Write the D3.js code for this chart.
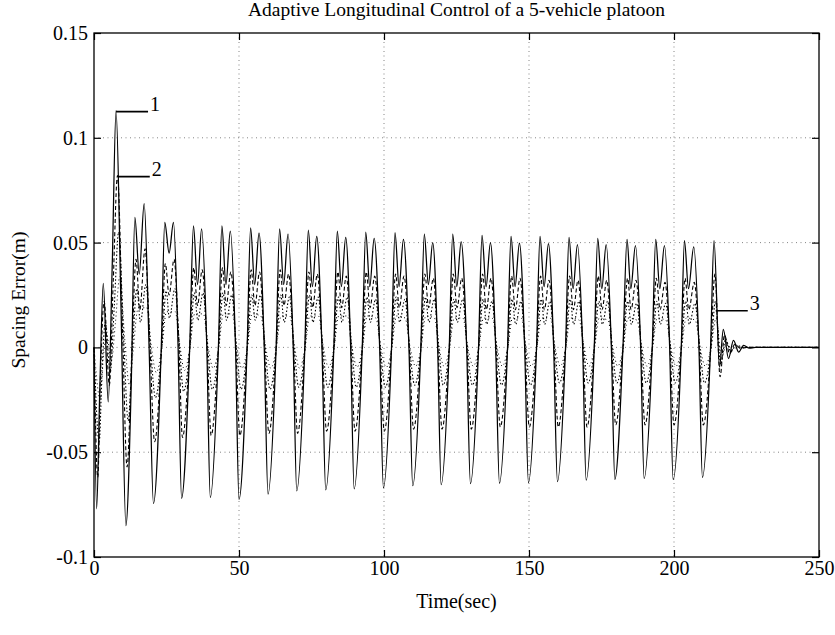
<!DOCTYPE html>
<html>
<head>
<meta charset="utf-8">
<script src="https://cdn.jsdelivr.net/npm/d3@7"></script>
<style>
  body { margin: 0; background: #fff; }
  svg text { font-family: "Liberation Serif", "Times New Roman", serif; fill: #000; }
</style>
</head>
<body>
<script>
/* ===== data (time in sec, spacing error in m) ===== */

var vehicle1 = [
  [0,0],[0.9,-0.077],[2.0,-0.02],[3.2,0.0305],[4.9,-0.026],[6.3,0.04],[7.6,0.113],[9.3,0.02],[11.0,-0.085],
  [12.8,-0.02],[14.1,0.062],[15.6,0.035],[17.3,0.0686],[19.0,0.0],[20.5,-0.0745],
  [23.2,0],[24.4,0.0597],[25.9,0.045],[27.4,0.0597],[29.0,0],[30.2,-0.072],
  [33.0,0],[34.3,0.058],[35.7,0.03],[37.1,0.0565],[38.9,0],[40.1,-0.0715],
  [42.9,0],[44.1,0.058],[45.5,0.03],[47.0,0.0555],[48.8,0],[50.0,-0.0725],
  [52.8,0],[54.0,0.057],[55.4,0.03],[56.9,0.0545],[58.7,0],[60.0,-0.070],
  [62.8,0],[64.0,0.0565],[65.4,0.03],[66.9,0.054],[68.7,0],[69.9,-0.0685],
  [72.7,0],[73.9,0.056],[75.3,0.029],[76.8,0.053],[78.6,0],[79.9,-0.068],
  [82.7,0],[83.9,0.0555],[85.3,0.029],[86.8,0.0525],[88.5,0],[89.7,-0.0675],
  [92.5,0],[93.7,0.055],[95.1,0.029],[96.6,0.052],[98.5,0],[99.8,-0.067],
  [102.6,0],[103.8,0.0548],[105.2,0.029],[106.7,0.0515],[108.6,0],[109.9,-0.066],
  [112.7,0],[113.9,0.054],[115.3,0.03],[116.8,0.050],[118.5,0],[119.7,-0.0655],
  [122.5,0],[123.7,0.054],[125.1,0.029],[126.6,0.0505],[128.5,0],[129.8,-0.065],
  [132.6,0],[133.8,0.0535],[135.2,0.029],[136.7,0.050],[138.5,0],[139.8,-0.0648],
  [142.6,0],[143.8,0.053],[145.2,0.029],[146.7,0.0498],[148.5,0],[149.8,-0.0645],
  [152.6,0],[153.8,0.053],[155.2,0.029],[156.7,0.0495],[158.5,0],[159.8,-0.064],
  [162.6,0],[163.8,0.0525],[165.2,0.028],[166.7,0.049],[168.5,0],[169.7,-0.0633],
  [172.5,0],[173.7,0.052],[175.1,0.028],[176.6,0.049],[178.4,0],[179.6,-0.063],
  [182.4,0],[183.8,0.0515],[185.1,0.028],[186.7,0.0485],[188.5,0],[189.7,-0.0625],
  [192.5,0],[193.7,0.0515],[195.1,0.028],[196.7,0.0485],[198.5,0],[199.7,-0.063],
  [202.5,0],[203.6,0.051],[205.0,0.028],[206.8,0.048],[208.6,0],[209.8,-0.062],
  [212.6,0],[213.8,0.051],[215.7,-0.0094],[217.0,0.0086],[218.8,-0.0053],[220.5,0.0033],
  [222.3,-0.0022],[224.0,0.001],[226.0,-0.0004],[228.0,0],[250,0]
];

var vehicle2 = [
  [0,0],[1.3,-0.062],[2.3,-0.01],[3.5,0.022],[5.3,-0.018],[6.6,0.03],[8.1,0.082],[9.8,0.01],[11.4,-0.057],
  [13.1,0],[14.5,0.042],[15.8,0.018],[17.6,0.047],[19.3,0],[20.9,-0.045],
  [23.3,0],[24.6,0.04],[25.9,0.025],[27.6,0.042],[29.3,0],[30.5,-0.043],
  [33.0,0],[34.4,0.038],[35.7,0.02],[37.3,0.037],[39.0,0],[40.4,-0.042],
  [42.9,0],[44.3,0.038],[45.6,0.02],[47.2,0.036],[48.9,0],[50.3,-0.042],
  [52.8,0],[54.2,0.037],[55.5,0.02],[57.1,0.036],[58.8,0],[60.3,-0.041],
  [62.8,0],[64.2,0.037],[65.5,0.02],[67.1,0.035],[68.8,0],[70.2,-0.041],
  [72.7,0],[74.1,0.036],[75.4,0.019],[77.0,0.035],[78.7,0],[80.2,-0.040],
  [82.7,0],[84.1,0.036],[85.4,0.019],[87.0,0.034],[88.6,0],[90.0,-0.040],
  [92.5,0],[93.9,0.036],[95.2,0.019],[96.8,0.034],[98.6,0],[100.1,-0.040],
  [102.6,0],[104.0,0.035],[105.3,0.019],[106.9,0.034],[108.7,0],[110.2,-0.039],
  [112.7,0],[114.1,0.035],[115.4,0.019],[117.0,0.033],[118.6,0],[120.0,-0.039],
  [122.5,0],[123.9,0.035],[125.2,0.019],[126.8,0.033],[128.6,0],[130.1,-0.039],
  [132.6,0],[134.0,0.035],[135.3,0.018],[136.9,0.033],[138.6,0],[140.1,-0.038],
  [142.6,0],[144.0,0.034],[145.3,0.018],[146.9,0.033],[148.6,0],[150.1,-0.038],
  [152.6,0],[154.0,0.034],[155.3,0.018],[156.9,0.032],[158.6,0],[160.1,-0.038],
  [162.6,0],[164.0,0.034],[165.3,0.018],[166.9,0.032],[168.6,0],[170.0,-0.038],
  [172.5,0],[173.9,0.034],[175.2,0.018],[176.8,0.032],[178.5,0],[179.9,-0.037],
  [182.4,0],[184.0,0.033],[185.2,0.018],[186.9,0.032],[188.6,0],[190.0,-0.037],
  [192.5,0],[193.9,0.033],[195.2,0.018],[196.9,0.031],[198.6,0],[200.0,-0.037],
  [202.5,0],[203.8,0.033],[205.1,0.018],[207.0,0.031],[208.7,0],[210.1,-0.037],
  [212.7,0],[214.1,0.035],[215.9,-0.014],[217.4,0.006],[219.2,-0.003],[221.0,0.0015],
  [223.0,-0.0005],[225,0],[250,0]
];

var vehicle3 = [
  [0,0],[1.8,-0.045],[2.8,-0.01],[3.9,0.012],[5.6,-0.012],[7.0,0.02],[8.5,0.055],[10.2,0.005],[11.8,-0.035],
  [13.3,0],[14.8,0.028],[16.0,0.012],[17.9,0.03],[19.5,0],[21.2,-0.024],
  [23.4,0],[24.9,0.027],[26.0,0.014],[27.9,0.028],[29.5,0],[30.9,-0.021],
  [33.1,0],[34.6,0.026],[35.8,0.013],[37.6,0.026],[39.2,0],[40.8,-0.02],
  [43.0,0],[44.5,0.026],[45.7,0.013],[47.5,0.025],[49.1,0],[50.7,-0.02],
  [52.9,0],[54.4,0.025],[55.6,0.013],[57.4,0.025],[59.0,0],[60.7,-0.02],
  [62.9,0],[64.4,0.025],[65.6,0.012],[67.4,0.024],[69.0,0],[70.6,-0.019],
  [72.8,0],[74.3,0.025],[75.5,0.012],[77.3,0.024],[78.9,0],[80.6,-0.019],
  [82.8,0],[84.3,0.024],[85.5,0.012],[87.3,0.024],[88.9,0],[90.4,-0.019],
  [92.6,0],[94.1,0.024],[95.3,0.012],[97.1,0.023],[98.7,0],[100.5,-0.019],
  [102.7,0],[104.2,0.024],[105.4,0.012],[107.2,0.023],[108.8,0],[110.6,-0.018],
  [112.8,0],[114.3,0.024],[115.5,0.012],[117.3,0.023],[118.9,0],[120.4,-0.018],
  [122.6,0],[124.1,0.023],[125.3,0.012],[127.1,0.023],[128.7,0],[130.5,-0.018],
  [132.7,0],[134.2,0.023],[135.4,0.011],[137.2,0.022],[138.8,0],[140.5,-0.018],
  [142.7,0],[144.2,0.023],[145.4,0.011],[147.2,0.022],[148.8,0],[150.5,-0.018],
  [152.7,0],[154.2,0.023],[155.4,0.011],[157.2,0.022],[158.8,0],[160.5,-0.017],
  [162.7,0],[164.2,0.023],[165.4,0.011],[167.2,0.022],[168.8,0],[170.4,-0.017],
  [172.6,0],[174.1,0.022],[175.3,0.011],[177.1,0.022],[178.7,0],[180.3,-0.017],
  [182.5,0],[184.0,0.022],[185.3,0.011],[187.1,0.021],[188.8,0],[190.4,-0.017],
  [192.6,0],[194.1,0.022],[195.3,0.011],[197.1,0.021],[198.8,0],[200.4,-0.017],
  [202.6,0],[204.0,0.022],[205.3,0.011],[207.2,0.021],[208.9,0],[210.5,-0.017],
  [212.8,0],[214.3,0.022],[216.1,-0.008],[217.8,0.004],[219.6,-0.002],[221.5,0.001],[224,0],[250,0]
];

var vehicle4 = [
  [0,0],[2.2,-0.025],[3.2,-0.005],[4.3,0.006],[6.0,-0.006],[7.4,0.012],[8.9,0.034],[10.6,0.004],[12.2,-0.018],
  [13.6,0],[15.1,0.018],[18.2,0.019],[19.8,0],[21.5,-0.012],
  [23.4,0],[25.0,0.017],[28.0,0.017],[29.7,0],[31.2,-0.011],
  [33.1,0],[34.7,0.016],[37.7,0.016],[39.4,0],[41.1,-0.01],
  [43.0,0],[44.6,0.016],[47.6,0.016],[49.3,0],[51.0,-0.01],
  [52.9,0],[54.5,0.016],[57.5,0.015],[59.2,0],[61.0,-0.01],
  [62.9,0],[64.5,0.015],[67.5,0.015],[69.2,0],[70.9,-0.01],
  [72.8,0],[74.4,0.015],[77.4,0.015],[79.1,0],[80.9,-0.0095],
  [82.8,0],[84.4,0.015],[87.4,0.015],[89.0,0],[90.7,-0.0095],
  [92.6,0],[94.2,0.015],[97.2,0.014],[98.9,0],[100.8,-0.0095],
  [102.7,0],[104.3,0.015],[107.3,0.014],[109.0,0],[110.9,-0.009],
  [112.8,0],[114.4,0.015],[117.4,0.014],[119.0,0],[120.7,-0.009],
  [122.6,0],[124.2,0.014],[127.2,0.014],[128.9,0],[130.8,-0.009],
  [132.7,0],[134.3,0.014],[137.3,0.014],[139.0,0],[140.8,-0.009],
  [142.7,0],[144.3,0.014],[147.3,0.014],[149.0,0],[150.8,-0.009],
  [152.7,0],[154.3,0.014],[157.3,0.014],[159.0,0],[160.8,-0.009],
  [162.7,0],[164.3,0.014],[167.3,0.013],[169.0,0],[170.7,-0.009],
  [172.6,0],[174.2,0.014],[177.2,0.013],[178.9,0],[180.6,-0.009],
  [182.5,0],[184.1,0.014],[187.2,0.013],[188.9,0],[190.7,-0.009],
  [192.6,0],[194.2,0.014],[197.2,0.013],[198.9,0],[200.7,-0.009],
  [202.6,0],[204.2,0.014],[207.3,0.013],[209.0,0],[210.8,-0.009],
  [212.8,0],[214.5,0.014],[216.4,-0.005],[218.2,0.002],[220,-0.001],[222,0],[250,0]
];

var xTicks = [0, 50, 100, 150, 200, 250];
var yTicks = [-0.1, -0.05, 0, 0.05, 0.1, 0.15];
var yTickLabels = ['-0.1', '-0.05', '0', '0.05', '0.1', '0.15'];

// curve labels: text, time and value where the leader line starts
var labelNames = ['1', '2', '3'];
var labelTimes = [7.6, 8.2, 214.4];
var labelValues = [0.1125, 0.0815, 0.0175];

buildPlot();

/* ===== BUILD PLOT ===== */

function buildPlot() {
  var w = 835;
  var h = 635;
  var margin = {top: 33, right: 16, bottom: 78, left: 94};
  var serif = '"Liberation Serif", "Times New Roman", serif';

  var svg = d3.select('body')
    .append('svg')
    .attr('width', w)
    .attr('height', h);

  svg.append('rect')
    .attr('width', w)
    .attr('height', h)
    .attr('fill', '#fff');

  var xScale = d3.scaleLinear()
    .domain([0, 250])
    .range([margin.left, w - margin.right]);

  var yScale = d3.scaleLinear()
    .domain([-0.1, 0.15])
    .range([h - margin.bottom, margin.top]);

  /* ===== grid ===== */

  var grid = svg.append('g')
    .attr('stroke', '#777')
    .attr('stroke-width', 0.9)
    .attr('stroke-dasharray', '1,3.5');

  grid.selectAll('.vgrid')
    .data(xTicks.slice(1, -1))
    .enter()
    .append('line')
    .attr('x1', function(d) { return xScale(d); })
    .attr('x2', function(d) { return xScale(d); })
    .attr('y1', yScale(0.15))
    .attr('y2', yScale(-0.1));

  grid.selectAll('.hgrid')
    .data(yTicks.slice(1, -1))
    .enter()
    .append('line')
    .attr('y1', function(d) { return yScale(d); })
    .attr('y2', function(d) { return yScale(d); })
    .attr('x1', xScale(0))
    .attr('x2', xScale(250));

  /* ===== lines ===== */

  var line = d3.line()
    .x(function(d) { return xScale(d[0]); })
    .y(function(d) { return yScale(d[1]); })
    .curve(d3.curveMonotoneX);

  var series = [
    {values: vehicle4, dash: '1,3', width: 1},
    {values: vehicle3, dash: '1.5,2', width: 1.1},
    {values: vehicle2, dash: '4,2.5', width: 1.1},
    {values: vehicle1, dash: null, width: 1.25}
  ];

  svg.selectAll('.series')
    .data(series)
    .enter()
    .append('path')
    .attr('class', 'series')
    .attr('d', function(d) { return line(d.values); })
    .attr('fill', 'none')
    .attr('stroke', '#000')
    .attr('stroke-width', function(d) { return d.width; })
    .attr('stroke-dasharray', function(d) { return d.dash; });

  /* ===== axes ===== */

  var xAxis = d3.axisBottom(xScale)
    .tickValues(xTicks)
    .tickSizeInner(-7)
    .tickSizeOuter(0)
    .tickPadding(4)
    .tickFormat(d3.format('d'));

  var yAxis = d3.axisLeft(yScale)
    .tickValues(yTicks)
    .tickSizeInner(-7)
    .tickSizeOuter(0)
    .tickPadding(6)
    .tickFormat(function(d, i) { return yTickLabels[i]; });

  svg.append('g')
    .attr('transform', 'translate(0,' + (h - margin.bottom) + ')')
    .call(xAxis)
    .attr('font-family', serif)
    .attr('font-size', 20);

  svg.append('g')
    .attr('transform', 'translate(' + margin.left + ',0)')
    .call(yAxis)
    .attr('font-family', serif)
    .attr('font-size', 20);

  svg.append('g')
    .attr('transform', 'translate(0,' + margin.top + ')')
    .call(d3.axisTop(xScale).tickValues(xTicks).tickSizeInner(-7).tickSizeOuter(0).tickFormat(''));

  svg.append('g')
    .attr('transform', 'translate(' + (w - margin.right) + ',0)')
    .call(d3.axisRight(yScale).tickValues(yTicks).tickSizeInner(-7).tickSizeOuter(0).tickFormat(''));

  svg.selectAll('.domain').remove();
  svg.selectAll('.tick line').attr('stroke', '#000').attr('stroke-width', 1.2);
  svg.selectAll('.tick text').attr('fill', '#000');

  svg.append('rect')
    .attr('x', margin.left)
    .attr('y', margin.top)
    .attr('width', w - margin.left - margin.right)
    .attr('height', h - margin.top - margin.bottom)
    .attr('fill', 'none')
    .attr('stroke', '#000')
    .attr('stroke-width', 1.3);

  /* ===== curve labels ===== */

  var labels = svg.selectAll('.curveLabel')
    .data(labelNames)
    .enter()
    .append('g')
    .attr('class', 'curveLabel');

  labels.append('line')
    .attr('x1', function(d, i) { return xScale(labelTimes[i]); })
    .attr('x2', function(d, i) { return xScale(labelTimes[i]) + 32; })
    .attr('y1', function(d, i) { return yScale(labelValues[i]); })
    .attr('y2', function(d, i) { return yScale(labelValues[i]); })
    .attr('stroke', '#000')
    .attr('stroke-width', 1.6);

  labels.append('text')
    .attr('x', function(d, i) { return xScale(labelTimes[i]) + 34; })
    .attr('y', function(d, i) { return yScale(labelValues[i]) - 1; })
    .style('font-size', '20px')
    .text(function(d) { return d; });

  /* ===== titles ===== */

  var cx = (margin.left + w - margin.right) / 2;

  svg.append('text')
    .attr('x', cx)
    .attr('y', 16)
    .attr('text-anchor', 'middle')
    .style('font-size', '19.5px')
    .text('Adaptive Longitudinal Control of a 5-vehicle platoon');

  svg.append('text')
    .attr('x', cx)
    .attr('y', 608)
    .attr('text-anchor', 'middle')
    .style('font-size', '20px')
    .text('Time(sec)');

  svg.append('text')
    .attr('transform', 'translate(25,300) rotate(-90)')
    .attr('text-anchor', 'middle')
    .style('font-size', '19.5px')
    .text('Spacing Error(m)');
}
</script>
</body>
</html>
